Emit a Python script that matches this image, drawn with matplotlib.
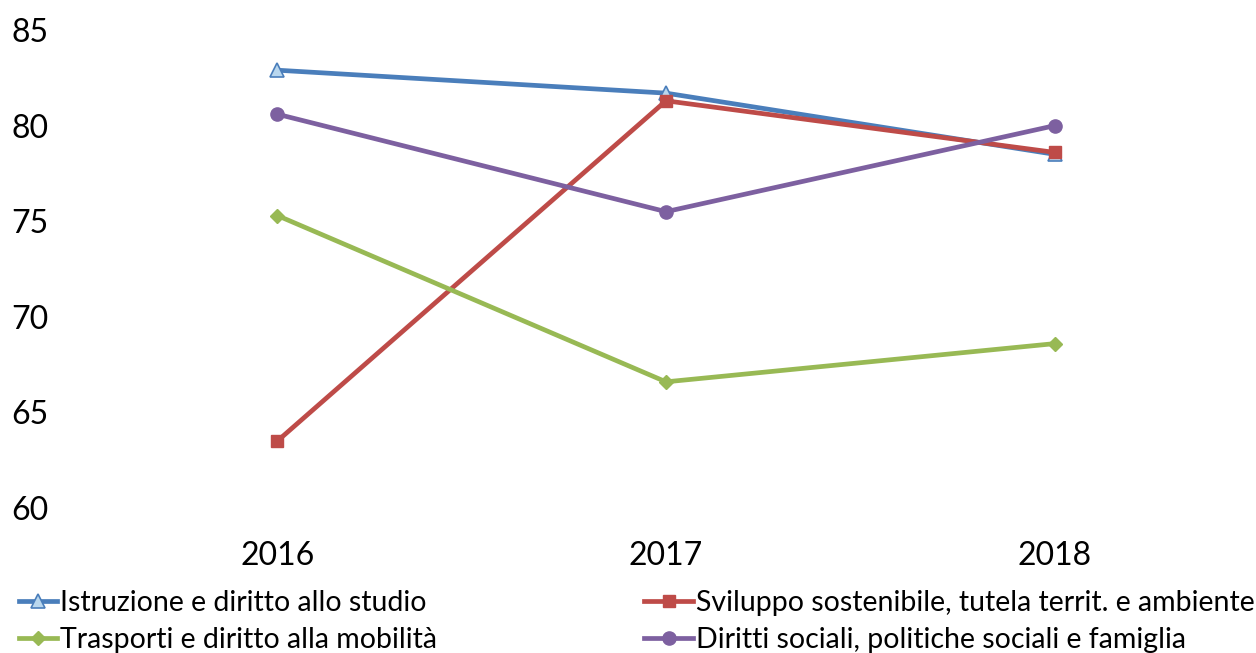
import matplotlib
matplotlib.use("Agg")
import matplotlib.pyplot as plt

plt.rcParams['font.family'] = ['Lato', 'DejaVu Sans']

years = ["2016", "2017", "2018"]
istruzione = [82.9, 81.7, 78.5]
sviluppo = [63.5, 81.3, 78.6]
trasporti = [75.3, 66.6, 68.6]
diritti = [80.6, 75.5, 80.0]
yticks = [60, 65, 70, 75, 80, 85]

fig = plt.figure(figsize=(12.56, 6.53), dpi=100)
ax = fig.add_axes([0.066, 0.222, 0.9285, 0.732])

x = [0.5, 1.5, 2.5]
lw = 3.4
h1, = ax.plot(x, istruzione, color='#4A7EBB', lw=lw, marker='^', ms=10,
              mfc='#B9D7EE', mec='#4A7EBB', mew=1.2, label='Istruzione e diritto allo studio')
h2, = ax.plot(x, sviluppo, color='#BE4B48', lw=lw, marker='s', ms=9,
              mfc='#BE4B48', mec='#BE4B48', label='Sviluppo sostenibile, tutela territ. e ambiente')
h3, = ax.plot(x, trasporti, color='#98B954', lw=lw, marker='D', ms=7,
              mfc='#98B954', mec='#98B954', label='Trasporti e diritto alla mobilità')
h4, = ax.plot(x, diritti, color='#7D60A0', lw=lw, marker='o', ms=9.5,
              mfc='#7D60A0', mec='#7D60A0', label='Diritti sociali, politiche sociali e famiglia')

ax.set_xlim(0, 3)
ax.set_ylim(60, 85)
ax.set_yticks(yticks)
ax.set_yticklabels([str(v) for v in yticks], fontsize=23)
ax.set_xticks(x)
ax.set_xticklabels(years, fontsize=23)
ax.tick_params(length=0)
ax.tick_params(axis='x', pad=24)
ax.tick_params(axis='y', pad=25)
for s in ax.spines.values():
    s.set_visible(False)

leg_kw = dict(frameon=False, fontsize=20.5, handletextpad=0.1,
              labelspacing=0.4, borderaxespad=0, borderpad=0)
fig.legend([h1, h3], [h1.get_label(), h3.get_label()], loc='upper left',
           bbox_to_anchor=(0.015, 0.097), handlelength=1.35, **leg_kw)
fig.legend([h2, h4], [h2.get_label(), h4.get_label()], loc='upper left',
           bbox_to_anchor=(0.513, 0.097), handlelength=1.7, **leg_kw)

fig.savefig('out.png', dpi=100)
